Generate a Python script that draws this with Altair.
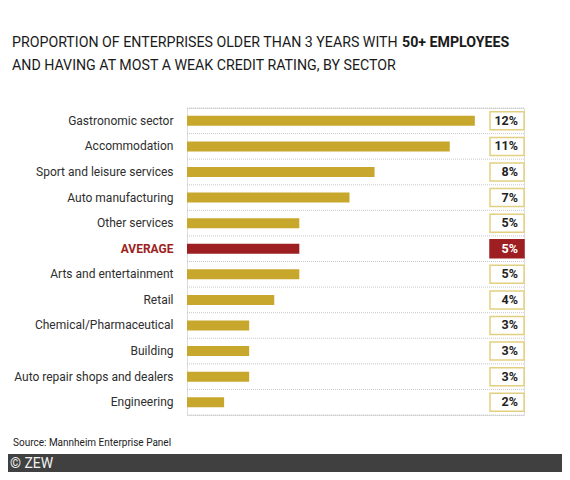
import altair as alt
import pandas as pd

# ---- data ----
sectors = [
    "Gastronomic sector",
    "Accommodation",
    "Sport and leisure services",
    "Auto manufacturing",
    "Other services",
    "AVERAGE",
    "Arts and entertainment",
    "Retail",
    "Chemical/Pharmaceutical",
    "Building",
    "Auto repair shops and dealers",
    "Engineering",
]
values = [12, 11, 8, 7, 5, 5, 5, 4, 3, 3, 3, 2]
value_labels = [f"{v}%" for v in values]

title_line1_normal = "PROPORTION OF ENTERPRISES OLDER THAN 3 YEARS WITH"
title_line1_bold = "50+ EMPLOYEES"
title_line2 = "AND HAVING AT MOST A WEAK CREDIT RATING, BY SECTOR"
source_text = "Source: Mannheim Enterprise Panel"
footer_text = "© ZEW"

# ---- styles ----
FONT = "Roboto"
GOLD = "#c8a72d"
RED = "#9e1f22"
BOX = "#e3cf80"
PLOT_W, PLOT_H = 337, 307

df = pd.DataFrame({
    "sector": sectors,
    "value": values,
    "label": value_labels,
    "is_avg": [s == "AVERAGE" for s in sectors],
})

yaxis = alt.Axis(
    title=None, domain=False, ticks=False, grid=False, labelPadding=14,
    labelFont=FONT, labelFontSize=12,
    labelColor=alt.ExprRef(expr=f"datum.value == 'AVERAGE' ? '{RED}' : '#2e2e2e'"),
    labelFontWeight=alt.ExprRef(expr="datum.value == 'AVERAGE' ? 'bold' : 'normal'"),
)
yscale = alt.Scale(paddingInner=0, paddingOuter=0)


def Y(**kw):
    return alt.Y("sector:N", sort=sectors, scale=yscale, axis=yaxis, **kw)


xscale = alt.Scale(domain=[0.52, 13.96], zero=False, nice=False)

base = alt.Chart(df)

grid_top = base.mark_rule(color="#c8c8c8", strokeDash=[1, 1], strokeWidth=1).encode(
    y=Y(bandPosition=0), x=alt.value(0), x2=alt.value(PLOT_W)
)
grid_bottom = base.transform_filter(alt.datum.sector == sectors[-1]).mark_rule(
    color="#c8c8c8", strokeDash=[1, 1], strokeWidth=1
).encode(y=Y(bandPosition=1), x=alt.value(0), x2=alt.value(PLOT_W))

bars = base.mark_bar(size=10).encode(
    y=Y(),
    x=alt.X("value:Q", scale=xscale, axis=None),
    x2=alt.datum(0.52),
    color=alt.condition("datum.is_avg", alt.value(RED), alt.value(GOLD)),
)

boxes = base.mark_bar(orient="horizontal", size=18, strokeWidth=1.5).encode(
    y=Y(),
    x=alt.value(303),
    x2=alt.value(PLOT_W),
    fill=alt.condition("datum.is_avg", alt.value(RED), alt.value("white")),
    stroke=alt.condition("datum.is_avg", alt.value(RED), alt.value(BOX)),
)

vtext = base.mark_text(align="right", baseline="middle", font=FONT, fontSize=12.5,
                       fontWeight="bold").encode(
    y=Y(),
    x=alt.value(331),
    text="label:N",
    color=alt.condition("datum.is_avg", alt.value("white"), alt.value("#222222")),
)

t1 = alt.Chart(pd.DataFrame({"t": [title_line1_normal]})).mark_text(
    align="left", baseline="alphabetic", font=FONT, fontSize=14.2, color="#1a1a1a"
).encode(x=alt.value(-175), y=alt.value(-61), text="t:N")
t1b = alt.Chart(pd.DataFrame({"t": [title_line1_bold]})).mark_text(
    align="left", baseline="alphabetic", font=FONT, fontSize=14.2, fontWeight="bold", color="#1a1a1a"
).encode(x=alt.value(215), y=alt.value(-61), text="t:N")
t2 = alt.Chart(pd.DataFrame({"t": [title_line2]})).mark_text(
    align="left", baseline="alphabetic", font=FONT, fontSize=14.2, color="#1a1a1a"
).encode(x=alt.value(-175), y=alt.value(-38), text="t:N")

src = alt.Chart(pd.DataFrame({"t": [source_text]})).mark_text(
    align="left", baseline="alphabetic", font=FONT, fontSize=10, color="#222222"
).encode(x=alt.value(-174), y=alt.value(338), text="t:N")

foot_rect = alt.Chart(pd.DataFrame({"t": [footer_text]})).mark_rect(color="#404040").encode(
    x=alt.value(-179), x2=alt.value(375), y=alt.value(346), y2=alt.value(364)
)
foot_txt = alt.Chart(pd.DataFrame({"t": [footer_text]})).mark_text(
    align="left", baseline="alphabetic", font=FONT, fontSize=14, color="#f2f2f2"
).encode(x=alt.value(-177), y=alt.value(360), text="t:N")

chart = alt.layer(
    grid_top, grid_bottom, bars, boxes, vtext, t1, t1b, t2, src, foot_rect, foot_txt
).properties(
    width=PLOT_W, height=PLOT_H,
    padding={"left": 179, "top": 100, "right": 38, "bottom": 57},
    autosize=alt.AutoSizeParams(type="none"),
).configure_view(stroke=None).configure(background="white")

chart.save("out.html", embed_options={"renderer": "svg", "actions": False})
